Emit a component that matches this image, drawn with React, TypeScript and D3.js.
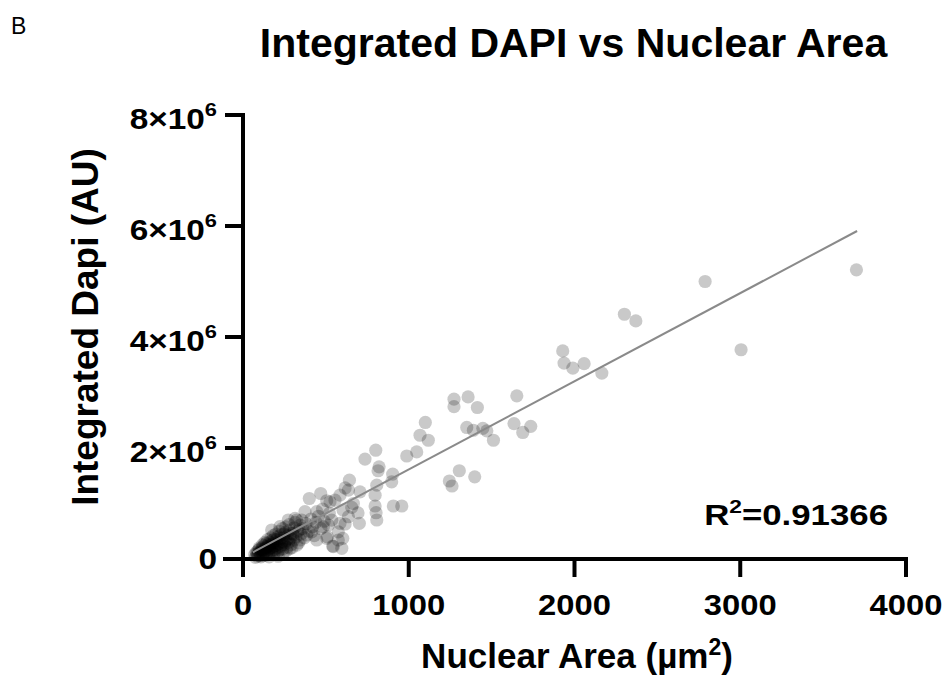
import * as d3 from 'd3';

// Nuclear area (µm²) and integrated DAPI (AU, millions) for each nucleus
const areaValues = [
  3701, 2788, 2301, 2370, 3005, 2165, 1929, 1937, 1990, 2058,
  1273, 1273, 1358, 1414, 1652, 1350, 1390, 1447, 1471, 1511,
  1635, 1688, 1736, 1305, 1245, 1261, 1398, 1100, 1068, 1118,
  1048, 988, 801, 736, 821, 815, 903, 897, 642, 616,
  636, 706, 807, 797, 469, 400, 505, 555, 907, 958,
  797, 656, 803, 807, 636, 616, 702, 602, 541, 596,
  575, 509, 485, 515, 521, 374, 445, 324, 273, 585,
  223, 384, 304, 505, 575, 545, 445, 284, 173, 525,
  415, 344, 314, 585, 666, 604, 694, 535,
  70, 80, 85, 90, 95, 100, 105, 110, 115, 120,
  120, 125, 130, 135, 140, 140, 145, 150, 155, 160,
  160, 165, 170, 175, 175, 180, 185, 190, 190, 195,
  200, 205, 210, 210, 215, 220, 225, 230, 235, 240,
  245, 250, 255, 260, 265, 270, 275, 280, 285, 290,
  300, 305, 310, 320, 330, 335, 345, 350, 360, 370,
  380, 395, 410, 420, 430, 440, 455, 470, 480, 490,
  75, 85, 92, 98, 102, 108, 112, 118, 122, 128,
  132, 138, 142, 148, 152, 158, 162, 168, 172, 178,
  182, 188, 192, 198, 202, 208, 212, 218, 222, 228,
  232, 238, 242, 248, 252, 258, 262, 268, 278, 288,
  295, 315, 325, 340, 355,
];
const dapiValues = [
  5.21, 5.0, 4.41, 4.29, 3.77, 3.35, 3.75, 3.53, 3.44, 3.52,
  2.88, 2.745, 2.92, 2.73, 2.94, 2.37, 2.32, 2.355, 2.31, 2.14,
  2.44, 2.28, 2.39, 1.59, 1.405, 1.315, 1.48, 2.46, 2.23, 2.14,
  1.93, 1.856, 1.96, 1.8, 1.66, 1.59, 1.53, 1.39, 1.42, 1.28,
  1.24, 1.21, 1.33, 1.15, 1.18, 1.09, 1.05, 1.06, 0.955, 0.955,
  0.955, 0.93, 0.834, 0.703, 0.762, 0.631, 0.643, 0.373, 0.234, 0.193,
  0.49, 0.4, 0.58, 0.613, 0.823, 0.852, 0.852, 0.703, 0.703, 0.643,
  0.582, 0.432, 0.432, 0.373, 0.342, 0.222, 0.342, 0.193, 0.522, 1.03,
  0.49, 0.342, 0.733, 1.15, 1.0, 0.88, 0.83, 0.7,
  0.08, 0.12, 0.05, 0.15, 0.1, 0.18, 0.06, 0.13, 0.2, 0.09,
  0.16, 0.24, 0.12, 0.19, 0.28, 0.07, 0.15, 0.22, 0.11, 0.3,
  0.18, 0.25, 0.14, 0.33, 0.21, 0.27, 0.09, 0.36, 0.17, 0.24,
  0.3, 0.2, 0.4, 0.13, 0.28, 0.34, 0.22, 0.44, 0.31, 0.18,
  0.38, 0.26, 0.48, 0.33, 0.21, 0.42, 0.3, 0.52, 0.37, 0.26,
  0.46, 0.34, 0.56, 0.4, 0.5, 0.29, 0.61, 0.45, 0.55, 0.38,
  0.64, 0.5, 0.72, 0.58, 0.42, 0.66, 0.77, 0.55, 0.9, 0.68,
  0.03, 0.1, 0.07, 0.2, 0.12, 0.04, 0.17, 0.26, 0.06, 0.14,
  0.3, 0.22, 0.1, 0.35, 0.26, 0.04, 0.2, 0.38, 0.1, 0.29,
  0.42, 0.23, 0.12, 0.45, 0.35, 0.27, 0.05, 0.5, 0.17, 0.37,
  0.25, 0.55, 0.1, 0.45, 0.3, 0.58, 0.15, 0.36, 0.62, 0.46,
  0.2, 0.66, 0.25, 0.52, 0.7,
];

// linear fit end points (x in µm², y in AU)
const fitX = [60, 3705];
const fitY = [121000, 5910000];

const xTicks = [0, 1000, 2000, 3000, 4000];
const yTicks = [0, 2e6, 4e6, 6e6, 8e6];
const yTickMantissa = ['0', '2', '4', '6', '8'];

const FONT = '"Liberation Sans", Arial, Helvetica, sans-serif';

export default function App() {
  const width = 946;
  const height = 680;

  const x = d3.scaleLinear().domain([0, 4000]).range([243, 906]);
  const y = d3.scaleLinear().domain([0, 8e6]).range([559, 115]);

  const points = areaValues.map((a, i) => ({ x: a, y: dapiValues[i] * 1e6 }));
  const fitLine = d3.line<number>()
    .x((d) => x(d))
    .y((_, i) => y(fitY[i]));

  const axisColor = '#000';

  return (
    <svg
      width={width}
      height={height}
      viewBox={`0 0 ${width} ${height}`}
      style={{ position: 'absolute', left: 0, top: 0, background: '#fff' }}
      fontFamily={FONT}
    >
      <rect width={width} height={height} fill="#fff" />

      {/* panel letter */}
      <text x={11} y={34} fontSize={23} fill="#000">B</text>

      {/* title */}
      <text x={573.5} y={57} textAnchor="middle" fontSize={41} fontWeight="bold" fill="#000">
        Integrated DAPI vs Nuclear Area
      </text>

      {/* points */}
      <g>
        {points.map((p, i) => (
          <circle key={i} cx={x(p.x)} cy={y(p.y)} r={6.6} fill="#000" fillOpacity={0.21} />
        ))}
      </g>

      {/* fit line */}
      <path d={fitLine(fitX) || ''} fill="none" stroke="#8a8a8a" strokeWidth={2} />

      {/* Y axis */}
      <g>
        <line x1={243} x2={243} y1={y(8e6) - 2} y2={y(0) + 2} stroke={axisColor} strokeWidth={4} />
        {yTicks.map((t, i) => (
          <g key={`yt-${i}`}>
            <line x1={225} x2={243} y1={y(t)} y2={y(t)} stroke={axisColor} strokeWidth={4} />
            {t === 0 ? (
              <g transform={`translate(217,${y(t) + 10}) scale(1.15,1)`}>
                <text textAnchor="end" fontSize={29} fontWeight="bold" fill="#000">0</text>
              </g>
            ) : (
              <g transform={`translate(217,${y(t) + 13.5}) scale(1.15,1)`}>
                <text textAnchor="end" fontSize={29} fontWeight="bold" fill="#000">
                  <tspan>{yTickMantissa[i]}×10</tspan>
                  <tspan fontSize={19} dy={-13}>6</tspan>
                </text>
              </g>
            )}
          </g>
        ))}
      </g>

      {/* X axis */}
      <g>
        <line x1={223} x2={908} y1={559} y2={559} stroke={axisColor} strokeWidth={4} />
        {xTicks.map((t, i) => (
          <g key={`xt-${i}`}>
            <line x1={x(t)} x2={x(t)} y1={559} y2={577} stroke={axisColor} strokeWidth={4} />
            <g transform={`translate(${x(t)},615) scale(1.13,1)`}>
              <text textAnchor="middle" fontSize={29} fontWeight="bold" fill="#000">{t}</text>
            </g>
          </g>
        ))}
      </g>

      {/* axis titles */}
      <text x={577} y={668} textAnchor="middle" fontSize={35} fontWeight="bold" fill="#000">
        <tspan>Nuclear Area (µm</tspan>
        <tspan fontSize={23} dy={-13}>2</tspan>
        <tspan dy={13}>)</tspan>
      </text>
      <text
        transform="translate(98,327) rotate(-90)"
        textAnchor="middle"
        fontSize={37}
        fontWeight="bold"
        fill="#000"
      >
        Integrated Dapi (AU)
      </text>

      {/* R squared */}
      <g transform="translate(888,525) scale(1.2,1)">
        <text textAnchor="end" fontSize={29} fontWeight="bold" fill="#000">
          <tspan>R</tspan>
          <tspan fontSize={19} dy={-12}>2</tspan>
          <tspan dy={12}>=0.91366</tspan>
        </text>
      </g>
    </svg>
  );
}
